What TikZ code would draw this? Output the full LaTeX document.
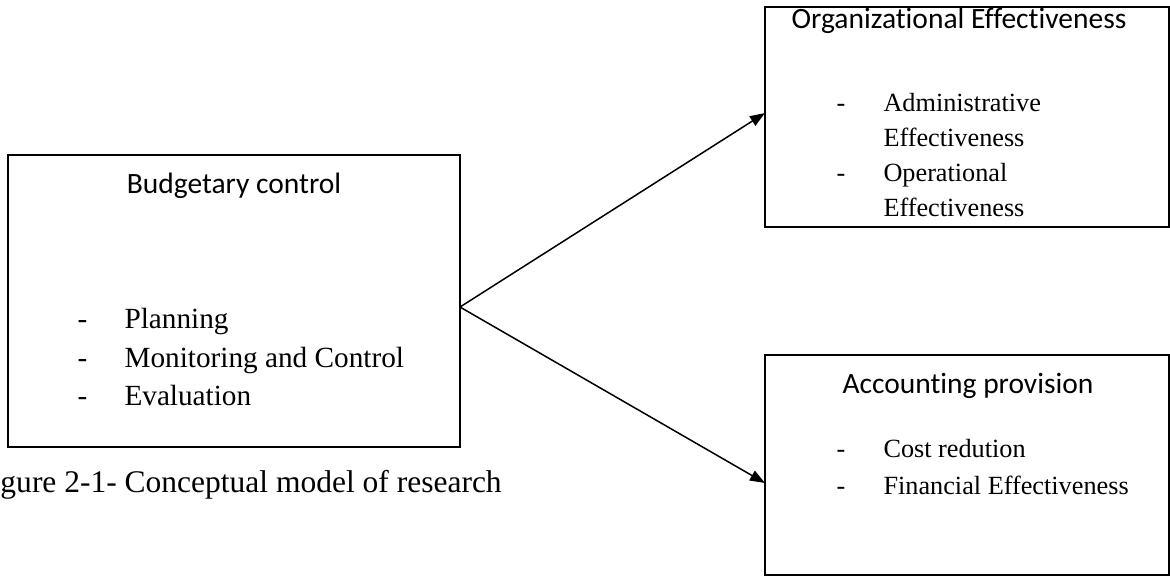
\documentclass[tikz,border=0pt]{standalone}
\usepackage{fontspec}
\setmainfont{Liberation Serif}
\newfontfamily\calibri[Ligatures=NoCommon]{Carlito}
\usetikzlibrary{arrows.meta}
\newcommand{\listitem}[5] {
    \node[#5] (#4dash) at ({#1}, {#2}) {-};
    \node[#5] (#4) at ({#1+47}, {#2}) {#3};
}
\tikzset{
    box/.style={draw,line width=0.8pt,inner sep=0pt,outer sep=0pt},
    title/.style={inner sep=0pt,anchor=base,font=\calibri\fontsize{11.8}{14}\selectfont},
    item/.style={inner sep=0pt,anchor=base west,font=\fontsize{11.7}{14}\selectfont},
    sideitem/.style={item,font=\fontsize{10.5}{13}\selectfont},
    arr/.style={-{Triangle[length=6pt,width=4.4pt]},line width=0.6pt}
}

\begin{document}
\begin{tikzpicture}[x=0.4pt,y=-0.4pt]
    \useasboundingbox (0,0) rectangle (1170,576);
    % boxes
    \node[box,minimum width=180.8pt,minimum height=116.8pt] (budget) at (234,301) {};
    \node[box,minimum width=161.6pt,minimum height=88pt] (orgeff) at (967,117) {};
    \node[box,minimum width=161.6pt,minimum height=88pt] (accprov) at (967,465) {};
    % left box
    \node[title] (budgettitle) at (234,193) {Budgetary control};
    \listitem{77}{328}{Planning}{plan}{item}
    \listitem{77}{367}{Monitoring and Control}{monitor}{item}
    \listitem{77}{405}{Evaluation}{eval}{item}
    % top right box
    \node[title] (orgefftitle) at (959,28) {Organizational Effectiveness};
    \listitem{836}{111}{Administrative}{admin}{sideitem}
    \node[sideitem] (admineff) at (883,146) {Effectiveness};
    \listitem{836}{181}{Operational}{oper}{sideitem}
    \node[sideitem] (opereff) at (883,216) {Effectiveness};
    % bottom right box
    \node[title] (accprovtitle) at (968,393) {Accounting provision};
    \listitem{836}{457}{Cost redution}{cost}{sideitem}
    \listitem{836}{494}{Financial Effectiveness}{fin}{sideitem}
    % caption
    \node[item,font=\fontsize{12.6}{15}\selectfont] (caption) at (0,492) {gure 2-1- Conceptual model of research};
    % arrows
    \draw[arr] ([yshift=-2.4pt]budget.east) -- ([yshift=1.6pt]orgeff.west);
    \draw[arr] ([yshift=-2.4pt]budget.east) -- ([yshift=-7.2pt]accprov.west);
\end{tikzpicture}
\end{document}
